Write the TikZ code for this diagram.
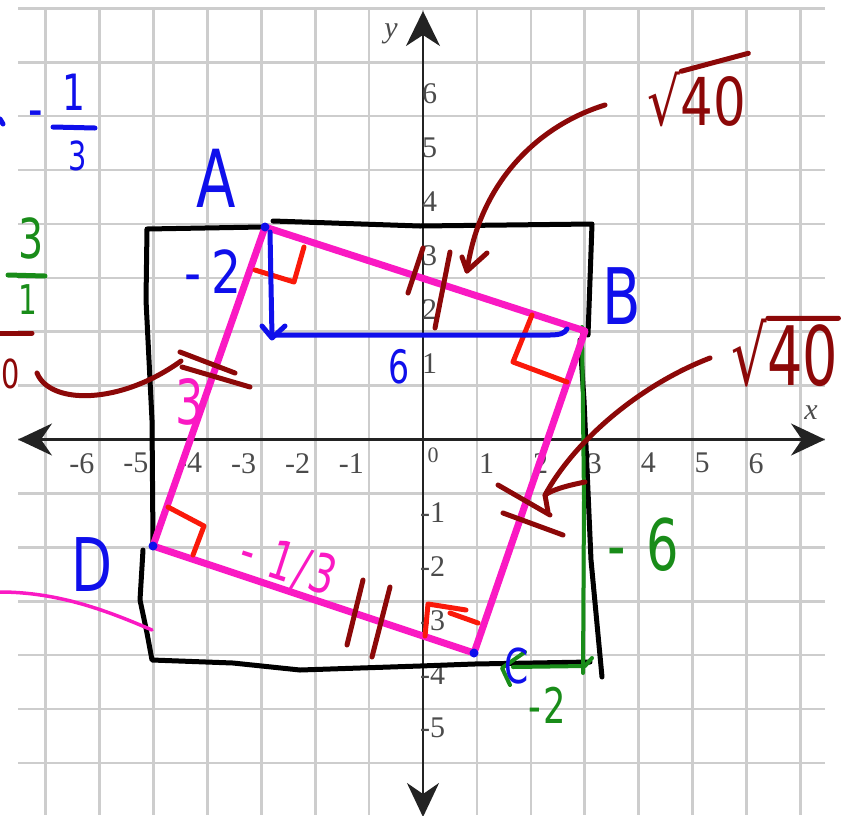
\documentclass[tikz,border=0pt]{standalone}
\usepackage{fontspec}
\setmainfont{Liberation Serif}
\newfontfamily\handfont{DejaVu Sans}
\usetikzlibrary{arrows.meta,calc}
\definecolor{gridgray}{RGB}{205,205,205}
\definecolor{axisdark}{RGB}{35,35,35}
\definecolor{labelgray}{RGB}{75,75,75}
\definecolor{pinkpen}{RGB}{250,25,195}
\definecolor{bluepen}{RGB}{15,15,235}
\definecolor{greenpen}{RGB}{25,140,25}
\definecolor{maroonpen}{RGB}{140,8,8}
\definecolor{redpen}{RGB}{250,25,10}
\newcommand{\handsq}[1]{\scalebox{0.72}[1]{#1}}
\begin{document}
\begin{tikzpicture}[x=1pt,y=-1pt,
  gridline/.style={draw=gridgray,line width=2.6pt},
  axisline/.style={draw=axisdark,line width=2.2pt},
  ticklabel/.style={text=labelgray,inner sep=0pt,font=\fontsize{30}{30}\selectfont},
  axislabel/.style={text=labelgray,inner sep=0pt,font=\fontsize{30}{30}\selectfont\itshape},
  pen/.style={line width=5pt,line cap=round,line join=round},
  thickpen/.style={line width=7pt,line cap=round,line join=round},
  hand/.style={inner sep=0pt,font=\handfont\fontsize{#1}{#1}\selectfont},
]
\useasboundingbox (0,0) rectangle (843,815);
% ---------- grid ----------
\foreach \i in {-7,...,7}
  \draw[gridline] ({423+53.9*\i},8.3) -- ({423+53.9*\i},815);
\foreach \j in {-6,...,8}
  \draw[gridline] (18,{439.5-53.9*\j}) -- (825,{439.5-53.9*\j});
% ---------- axes ----------
\coordinate (xL) at (18,439.5);
\coordinate (xR) at (825,439.5);
\coordinate (yT) at (423,11);
\coordinate (yB) at (423,817);
\draw[axisline,{Stealth[length=34pt,width=32pt,inset=11pt]}-{Stealth[length=34pt,width=32pt,inset=11pt]}] (xL) -- (xR);
\draw[axisline,{Stealth[length=35pt,width=34pt,inset=11pt]}-{Stealth[length=34pt,width=32pt,inset=11pt]}] (yT) -- (yB);
\foreach \i in {1,...,6}
  \node[ticklabel,anchor=north west] (xp\i) at ({423+53.9*\i+2},453) {\i};
\foreach \i in {1,...,6}
  \node[ticklabel,anchor=north east] (xm\i) at ({423-53.9*\i-5},453) {-\i};
\foreach \j in {1,...,6}
  \node[ticklabel,anchor=south west] (yp\j) at (422,{439.5-53.9*\j-12}) {\j};
\foreach \j in {1,...,5}
  \node[ticklabel,anchor=north west] (ym\j) at (420,{439.5+53.9*\j+9}) {-\j};
\node[ticklabel,font=\fontsize{22}{22}\selectfont] (x0) at (433,455) {0};
\node[axislabel] (xname) at (811,413) {x};
\node[axislabel] (yname) at (391,34) {y};
% ---------- black rectangle ----------
\draw[pen,black] (262,227) -- (147,229) -- (146,300) -- (152,420) -- (153,543);
\draw[pen,black] (273,221) -- (420,226) -- (592,224) -- (590,280) -- (588,335);
\draw[pen,black] (580,340) -- (584,400) -- (591,560) -- (602,677);
\draw[pen,black] (590,662) -- (474,664) -- (420,666) -- (300,670) -- (233,663)
  -- (152,660) -- (147,633) -- (140,600) -- (143,550);
% ---------- green run/rise ----------
\draw[pen,greenpen,line width=4pt] (582,327) -- (584,500) -- (583,673);
\draw[pen,greenpen,line width=4pt] (592,658) -- (585,666) -- (513,667);
\draw[pen,greenpen,line width=4pt] (525,652) -- (502,668) -- (510,685);
% ---------- pink square ----------
\coordinate (A) at (265,227);
\coordinate (B) at (585,331);
\coordinate (C) at (474,653);
\coordinate (D) at (153,546);
\draw[thickpen,pinkpen] (A) -- (B) -- (C) -- (D) -- cycle;
\draw[pinkpen,line width=3.5pt,line cap=round] (0,592) .. controls (60,592) and (110,612) .. (152,630);
\foreach \p in {A,C,D} \fill[bluepen] (\p) circle[radius=4.5pt];
% ---------- right angle marks ----------
\draw[pen,redpen] (255,270) -- (294,282) -- (304,247);
\draw[pen,redpen] (532,315) -- (513,362) -- (567,382);
\draw[pen,redpen] (168,507) -- (204,526) -- (193,555);
\draw[pen,redpen] (425,636) -- (428,604) -- (466,610);
\draw[pen,redpen] (450,613) -- (478,623);
% ---------- congruence ticks ----------
\draw[pen,maroonpen] (423,248) -- (408,293);
\draw[pen,maroonpen] (450,252) -- (435,328);
\draw[pen,maroonpen] (498,485) -- (550,515);
\draw[pen,maroonpen] (503,513) -- (563,535);
\draw[pen,maroonpen] (363,580) -- (347,645);
\draw[pen,maroonpen] (390,587) -- (372,657);
\draw[pen,maroonpen] (180,352) -- (235,373);
\draw[pen,maroonpen] (182,367) -- (250,387);
% ---------- blue slope triangle ----------
\draw[pen,bluepen] (270,232) -- (272,337);
\draw[pen,bluepen] (262,326) -- (272,338) -- (285,326);
\draw[pen,bluepen] (272,335) -- (550,335) .. controls (560,335) and (565,333) .. (567,329);
\draw[pen,bluepen] (0,119) -- (3,124);
% ---------- blue labels ----------
\node[hand=80,text=bluepen] (labA) at (216,178) {\handsq{A}};
\node[hand=78,text=bluepen] (labB) at (622,296) {\handsq{B}};
\node[hand=74,text=bluepen] (labD) at (92,565) {\handsq{D}};
\node[hand=48,text=bluepen] (labC) at (517,666) {\handsq{C}};
\node[hand=59,text=bluepen,anchor=base] (riseA) at (213,293) {\scalebox{0.8}[1]{-\kern0.2em 2}};
\node[hand=46,text=bluepen,anchor=base] (runA) at (399,383) {\handsq{6}};
\node[hand=56,text=bluepen] (bminus) at (36,120) {\handsq{-}};
\node[hand=50,text=bluepen] (bnum) at (74,92) {\handsq{1}};
\draw[pen,bluepen] (53,127) -- (95,128);
\node[hand=40,text=bluepen] (bden) at (78,156) {\handsq{3}};
% ---------- green labels ----------
\node[hand=55,text=greenpen] (gnum) at (31,238) {\handsq{3}};
\draw[pen,greenpen] (8,275) -- (45,276);
\node[hand=41,text=greenpen] (gden) at (28,300) {\handsq{1}};
\node[hand=71,text=greenpen,anchor=base] (grise) at (643,570) {\handsq{-\kern0.4em 6}};
\node[hand=49,text=greenpen,anchor=base] (grun) at (547,723) {\handsq{-\kern0.05em 2}};
% ---------- pink labels ----------
\node[hand=62,text=pinkpen] (pside) at (190,402) {\handsq{3}};
\node[hand=54,text=pinkpen,rotate=-18] (pslope) at (288,565) {\handsq{-\kern0.4em 1\kern0.06em/\kern0.06em 3}};
% ---------- maroon labels and arrows ----------
\draw[pen,maroonpen] (0,333) -- (32,333);
\node[hand=40,text=maroonpen] (rzero) at (11,374) {\handsq{0}};
\coordinate (c1s) at (37,373);
\coordinate (c1e) at (181,361);
\draw[pen,maroonpen] (c1s) .. controls (50,405) and (120,405) .. (c1e);
\node[hand=66,text=maroonpen,anchor=base,text depth=0pt] (root1) at (697,125) {\scalebox{0.78}[1]{√40}};
\draw[pen,maroonpen] ($(root1.north west)!0.34!(root1.north east)$) -- ($(root1.north east)+(2,-18)$);
\coordinate (a1s) at (605,105);
\coordinate (a1e) at (467,271);
\draw[pen,maroonpen] (a1s) .. controls (540,125) and (480,180) .. (a1e);
\draw[pen,maroonpen] (462,257) -- (a1e) -- (487,253);
\node[hand=82,text=maroonpen,anchor=base,text depth=0pt] (root2) at (785,385) {\scalebox{0.68}[1]{√40}};
\draw[pen,maroonpen] ($(root2.north west)!0.34!(root2.north east)$) -- (root2.north east);
\coordinate (a2s) at (710,358);
\coordinate (a2e) at (545,495);
\draw[pen,maroonpen] (a2s) .. controls (640,385) and (575,440) .. (a2e);
\draw[pen,maroonpen] (585,482) .. controls (565,486) and (552,490) .. (a2e) -- (548,512);
\end{tikzpicture}
\end{document}
